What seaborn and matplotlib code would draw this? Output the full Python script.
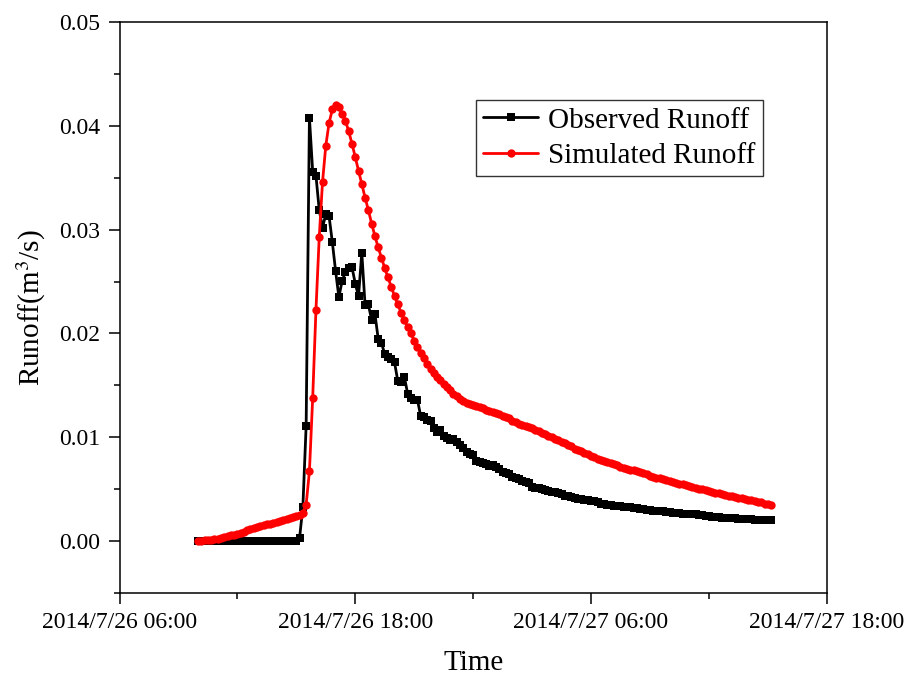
import numpy as np
import pandas as pd
import matplotlib
matplotlib.use("Agg")
import matplotlib.pyplot as plt
import matplotlib.dates as mdates
from matplotlib.ticker import MultipleLocator, FuncFormatter
import seaborn as sns

# 10-minute series, 2014/7/26 10:00 -> 2014/7/27 15:10
start_time = "2014-07-26 10:00"
step = "10min"

observed = [0.0] * 31 + [
    0.0003, 0.0033, 0.0111, 0.0408, 0.0356, 0.0352, 0.0319, 0.0302, 0.0315, 0.0313,
    0.0288, 0.0260, 0.0235, 0.0251, 0.0259, 0.0263, 0.0264, 0.0248, 0.0236, 0.0278,
    0.0227, 0.0228, 0.0213, 0.0219, 0.0195, 0.0191, 0.0180, 0.0177, 0.0175, 0.0172,
    0.0154, 0.0153, 0.0158, 0.0142, 0.0138, 0.0136, 0.0136, 0.0120, 0.0119, 0.0117,
    0.0116, 0.0109, 0.0105, 0.0107, 0.0101, 0.0099, 0.0097, 0.0098, 0.0095, 0.0092,
    0.0090, 0.0086, 0.0084, 0.0083, 0.0077, 0.0076, 0.0075, 0.0074, 0.0072, 0.0073,
    0.0071, 0.0069, 0.0066, 0.0065, 0.0064, 0.0062, 0.0061, 0.0060, 0.0058, 0.0057,
    0.0056, 0.0052, 0.0051, 0.0051, 0.0050, 0.0049, 0.0048, 0.0047, 0.0047, 0.0046,
    0.0045, 0.0043, 0.0043, 0.0042, 0.0041, 0.0040, 0.0040, 0.0039, 0.0039, 0.0038,
    0.0038, 0.0037, 0.0036, 0.0036, 0.0035, 0.0035, 0.0034, 0.0034, 0.0034, 0.0033,
    0.0033, 0.0033, 0.0032, 0.0032, 0.0031, 0.0031, 0.0030, 0.0030, 0.0029, 0.0029,
    0.0029, 0.0029, 0.0028, 0.0028, 0.0027, 0.0027, 0.0027, 0.0026, 0.0026, 0.0026,
    0.0026, 0.0026, 0.0025, 0.0025, 0.0024, 0.0024, 0.0023, 0.0023, 0.0023, 0.0022,
    0.0022, 0.0022, 0.0022, 0.0022, 0.0021, 0.0021, 0.0021, 0.0021, 0.0021, 0.0020,
    0.0020, 0.0020, 0.0020, 0.0020, 0.0020,
]

simulated = [
    0.0000, 0.0000, 0.0001, 0.0001, 0.0001, 0.0002, 0.0002, 0.0003, 0.0004, 0.0005,
    0.0006, 0.0006, 0.0007, 0.0008, 0.0009, 0.0010, 0.0011, 0.0012, 0.0013, 0.0014,
    0.0015, 0.0016, 0.0016, 0.0017, 0.0018, 0.0019, 0.0020, 0.0021, 0.0022, 0.0023,
    0.0024, 0.0025, 0.0027, 0.0035, 0.0067, 0.0138, 0.0223, 0.0293, 0.0346, 0.0381,
    0.0403, 0.0416, 0.0420, 0.0418, 0.0412, 0.0405, 0.0395, 0.0383, 0.0370, 0.0357,
    0.0344, 0.0331, 0.0319, 0.0306, 0.0294, 0.0283, 0.0273, 0.0263, 0.0254, 0.0245,
    0.0236, 0.0228, 0.0220, 0.0213, 0.0206, 0.0200, 0.0193, 0.0187, 0.0181, 0.0176,
    0.0171, 0.0166, 0.0162, 0.0158, 0.0155, 0.0151, 0.0148, 0.0145, 0.0142, 0.0140,
    0.0137, 0.0135, 0.0133, 0.0132, 0.0131, 0.0130, 0.0129, 0.0128, 0.0126, 0.0125,
    0.0124, 0.0123, 0.0122, 0.0120, 0.0119, 0.0118, 0.0116, 0.0115, 0.0113, 0.0112,
    0.0111, 0.0110, 0.0109, 0.0107, 0.0106, 0.0104, 0.0103, 0.0101, 0.0100, 0.0098,
    0.0097, 0.0095, 0.0094, 0.0092, 0.0091, 0.0089, 0.0088, 0.0087, 0.0085, 0.0084,
    0.0082, 0.0081, 0.0079, 0.0078, 0.0077, 0.0076, 0.0075, 0.0074, 0.0073, 0.0071,
    0.0070, 0.0069, 0.0068, 0.0068, 0.0067, 0.0066, 0.0065, 0.0064, 0.0063, 0.0062,
    0.0061, 0.0061, 0.0060, 0.0059, 0.0058, 0.0057, 0.0056, 0.0055, 0.0055, 0.0054,
    0.0053, 0.0052, 0.0051, 0.0050, 0.0050, 0.0049, 0.0048, 0.0047, 0.0046, 0.0046,
    0.0045, 0.0044, 0.0043, 0.0043, 0.0042, 0.0041, 0.0041, 0.0040, 0.0039, 0.0039,
    0.0038, 0.0037, 0.0037, 0.0036, 0.0036, 0.0035,
]

labels = ["Observed Runoff", "Simulated Runoff"]

times = pd.date_range(start_time, periods=len(observed), freq=step)
df = pd.DataFrame({"time": times, "obs": observed, "sim": simulated})

sns.set_style("ticks")
plt.rcParams["font.family"] = ["Liberation Serif", "DejaVu Serif"]
plt.rcParams["mathtext.fontset"] = "stix"
plt.rcParams["text.color"] = "black"
plt.rcParams["axes.labelcolor"] = "black"

fig = plt.figure(figsize=(9.11, 6.77), dpi=100)
ax = fig.add_axes([0.1312, 0.1245, 0.7763, 0.8425])

sns.lineplot(data=df, x="time", y="obs", ax=ax, color="black", marker="s",
             markersize=5.5, markeredgewidth=0, linewidth=2.0, label=labels[0])
sns.lineplot(data=df, x="time", y="sim", ax=ax, color="red", marker="o",
             markersize=6, markeredgewidth=0, linewidth=2.0, label=labels[1])

ax.set_xlim(pd.Timestamp("2014-07-26 06:00"), pd.Timestamp("2014-07-27 18:00"))
ax.set_ylim(-0.005, 0.05)

ax.xaxis.set_major_locator(mdates.HourLocator(byhour=[6, 18]))
ax.xaxis.set_minor_locator(mdates.HourLocator(byhour=[0, 12]))


def fmt_date(v, pos):
    d = mdates.num2date(v)
    return f"{d.year}/{d.month}/{d.day} {d:%H:%M}"


ax.xaxis.set_major_formatter(FuncFormatter(fmt_date))
ax.yaxis.set_major_locator(MultipleLocator(0.01))
ax.yaxis.set_minor_locator(MultipleLocator(0.005))
ax.yaxis.set_major_formatter(FuncFormatter(lambda v, p: f"{v:.2f}"))

ax.tick_params(which="major", direction="out", length=8, width=1.1,
               labelsize=17, colors="black", pad=6)
ax.tick_params(which="minor", direction="out", length=4, width=1.1, colors="black")
for sp in ax.spines.values():
    sp.set_visible(True)
    sp.set_linewidth(1.1)
    sp.set_color("black")

ax.set_xlabel("Time", fontsize=21, labelpad=12)
ax.set_ylabel("Runoff(m$^3$/s)", fontsize=21, labelpad=8)

leg = ax.legend(loc="upper right", bbox_to_anchor=(0.91, 0.864), borderaxespad=0,
                fancybox=False, edgecolor="#333333", fontsize=21,
                handlelength=1.9, handletextpad=0.35, borderpad=0.25,
                labelspacing=0.3, framealpha=1)
leg.get_frame().set_linewidth(1.0)

fig.savefig("out.png", dpi=100)
